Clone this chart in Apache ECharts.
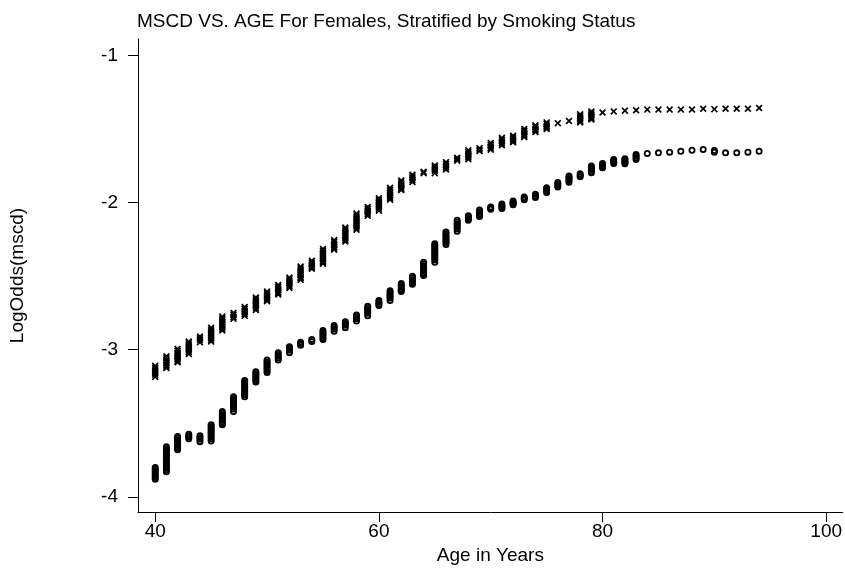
<!DOCTYPE html>
<html>
<head>
<meta charset="utf-8">
<script src="https://cdn.jsdelivr.net/npm/echarts@6/dist/echarts.min.js"></script>
<style>html,body{margin:0;padding:0;background:#fff}#c{width:845px;height:570px}</style>
</head>
<body>
<div id="c"></div>
<script>
const titleText = 'MSCD VS. AGE For Females, Stratified by Smoking Status';
const xName = 'Age in Years';
const yName = 'LogOdds(mscd)';
const xTicks = [40, 60, 80, 100];
const yTicks = [-4, -3, -2, -1];

const ages = [40,41,42,43,44,45,46,47,48,49,50,51,52,53,54,55,56,57,58,59,60,61,62,63,64,65,66,67,68,69,70,71,72,73,74,75,76,77,78,79,80,81,82,83,84,85,86,87,88,89,90,91,92,93,94];

// smokers (x markers): values observed at each age
const smokerVals = [
  [-3.11,-3.122,-3.134,-3.146,-3.158,-3.17,-3.185],
  [-3.045,-3.057,-3.069,-3.081,-3.093,-3.105,-3.115,-3.125],
  [-2.995,-3.007,-3.019,-3.031,-3.043,-3.055,-3.067,-3.076,-3.085],
  [-2.945,-2.957,-2.969,-2.981,-2.993,-3.005,-3.017,-3.03],
  [-2.91,-2.922,-2.934,-2.95],
  [-2.85,-2.862,-2.874,-2.886,-2.898,-2.91,-2.922,-2.934,-2.945],
  [-2.775,-2.787,-2.799,-2.811,-2.823,-2.835,-2.847,-2.859,-2.87],
  [-2.75,-2.763,-2.777,-2.79],
  [-2.71,-2.722,-2.734,-2.746,-2.758,-2.77],
  [-2.645,-2.657,-2.669,-2.681,-2.693,-2.705,-2.718,-2.73],
  [-2.605,-2.617,-2.629,-2.641,-2.653,-2.662,-2.67],
  [-2.56,-2.572,-2.584,-2.596,-2.608,-2.617,-2.625],
  [-2.51,-2.522,-2.534,-2.546,-2.558,-2.57,-2.58],
  [-2.435,-2.447,-2.459,-2.471,-2.483,-2.495,-2.507,-2.516,-2.525],
  [-2.395,-2.407,-2.419,-2.431,-2.441,-2.45],
  [-2.315,-2.327,-2.339,-2.351,-2.363,-2.375,-2.387,-2.399,-2.407,-2.415],
  [-2.255,-2.267,-2.279,-2.291,-2.303,-2.312,-2.32],
  [-2.17,-2.182,-2.194,-2.206,-2.218,-2.23,-2.242,-2.254,-2.265],
  [-2.075,-2.087,-2.099,-2.111,-2.123,-2.135,-2.147,-2.159,-2.171,-2.185],
  [-2.03,-2.042,-2.054,-2.066,-2.078,-2.09],
  [-1.97,-1.982,-1.994,-2.006,-2.018,-2.03,-2.042,-2.055],
  [-1.90,-1.912,-1.924,-1.936,-1.948,-1.96,-1.97,-1.98],
  [-1.85,-1.862,-1.874,-1.886,-1.898,-1.907,-1.915],
  [-1.81,-1.822,-1.834,-1.846,-1.86],
  [-1.79,-1.80],
  [-1.748,-1.76,-1.772,-1.784,-1.80],
  [-1.725,-1.737,-1.749,-1.761,-1.775],
  [-1.695,-1.705,-1.715],
  [-1.645,-1.657,-1.669,-1.681,-1.693,-1.705],
  [-1.63,-1.64,-1.65],
  [-1.595,-1.607,-1.619,-1.63,-1.64],
  [-1.56,-1.572,-1.584,-1.596,-1.61],
  [-1.545,-1.557,-1.569,-1.58,-1.59],
  [-1.50,-1.512,-1.524,-1.536,-1.546,-1.555],
  [-1.475,-1.487,-1.499,-1.51,-1.52],
  [-1.455,-1.467,-1.479,-1.49,-1.50],
  [-1.46],
  [-1.445],
  [-1.40,-1.412,-1.424,-1.436,-1.446,-1.455],
  [-1.38,-1.392,-1.404,-1.416,-1.426,-1.435],
  [-1.388],
  [-1.38],
  [-1.375],
  [-1.372],
  [-1.368],
  [-1.368],
  [-1.368],
  [-1.368],
  [-1.368],
  [-1.362],
  [-1.365],
  [-1.362],
  [-1.362],
  [-1.362],
  [-1.357]
];

// non-smokers (o markers): values observed at each age
const nonSmokerVals = [
  [-3.80,-3.812,-3.824,-3.836,-3.848,-3.86,-3.87,-3.88],
  [-3.66,-3.672,-3.684,-3.696,-3.708,-3.72,-3.732,-3.744,-3.756,-3.768,-3.78,-3.792,-3.804,-3.816,-3.83],
  [-3.59,-3.602,-3.614,-3.626,-3.638,-3.65,-3.662,-3.672,-3.68],
  [-3.575,-3.585,-3.595,-3.605],
  [-3.585,-3.597,-3.609,-3.625],
  [-3.51,-3.522,-3.534,-3.546,-3.558,-3.57,-3.582,-3.594,-3.606,-3.62],
  [-3.42,-3.432,-3.444,-3.456,-3.468,-3.48,-3.492,-3.502,-3.51],
  [-3.32,-3.332,-3.344,-3.356,-3.368,-3.38,-3.392,-3.404,-3.42],
  [-3.21,-3.222,-3.234,-3.246,-3.258,-3.27,-3.282,-3.294,-3.306,-3.32],
  [-3.15,-3.162,-3.174,-3.186,-3.198,-3.21,-3.22],
  [-3.07,-3.082,-3.094,-3.106,-3.118,-3.13,-3.142,-3.155],
  [-3.02,-3.032,-3.044,-3.056,-3.07],
  [-2.98,-2.992,-3.004,-3.02],
  [-2.95,-2.96,-2.97],
  [-2.93,-2.945],
  [-2.87,-2.882,-2.894,-2.906,-2.918,-2.93],
  [-2.835,-2.847,-2.859,-2.875],
  [-2.81,-2.822,-2.834,-2.85],
  [-2.765,-2.777,-2.789,-2.805],
  [-2.705,-2.717,-2.729,-2.741,-2.753,-2.77],
  [-2.665,-2.677,-2.689,-2.70],
  [-2.60,-2.612,-2.624,-2.636,-2.648,-2.665],
  [-2.55,-2.562,-2.574,-2.586,-2.596,-2.605],
  [-2.50,-2.512,-2.524,-2.536,-2.546,-2.555],
  [-2.405,-2.417,-2.429,-2.441,-2.453,-2.465,-2.477,-2.487,-2.495],
  [-2.28,-2.292,-2.304,-2.316,-2.328,-2.34,-2.352,-2.364,-2.376,-2.388,-2.405],
  [-2.20,-2.212,-2.224,-2.236,-2.248,-2.26,-2.272,-2.285],
  [-2.12,-2.132,-2.144,-2.156,-2.168,-2.18,-2.195],
  [-2.09,-2.10,-2.11,-2.12],
  [-2.05,-2.062,-2.074,-2.086,-2.095],
  [-2.03,-2.038,-2.045],
  [-2.01,-2.02,-2.03,-2.04],
  [-1.99,-2.00,-2.007,-2.014],
  [-1.962,-1.971,-1.98],
  [-1.944,-1.955,-1.966],
  [-1.90,-1.91,-1.92,-1.932],
  [-1.863,-1.873,-1.884,-1.894],
  [-1.82,-1.83,-1.84,-1.85,-1.861],
  [-1.804,-1.814,-1.824],
  [-1.752,-1.763,-1.774,-1.786,-1.797],
  [-1.734,-1.744,-1.754,-1.763],
  [-1.707,-1.716,-1.725,-1.734],
  [-1.702,-1.711,-1.72,-1.728,-1.736],
  [-1.673,-1.684,-1.695,-1.707],
  [-1.666],
  [-1.662],
  [-1.657],
  [-1.651],
  [-1.644],
  [-1.639],
  [-1.646,-1.657],
  [-1.662],
  [-1.662],
  [-1.657],
  [-1.651]
];

function toPoints(vals) {
  const pts = [];
  ages.forEach((a, i) => vals[i].forEach(v => pts.push([a, v])));
  return pts;
}

const font = 'Liberation Sans, Arial, Helvetica, sans-serif';
const xMark = 'path://M0,1.7L1.7,0L5,3.3L8.3,0L10,1.7L6.7,5L10,8.3L8.3,10L5,6.7L1.7,10L0,8.3L3.3,5Z';

const chart = echarts.init(document.getElementById('c'), null, {renderer: 'canvas'});
chart.setOption({
  animation: false,
  backgroundColor: '#fff',
  title: {
    text: titleText, left: 137, top: 12, padding: 0,
    textStyle: {fontFamily: font, fontSize: 19, fontWeight: 'normal', color: '#000'}
  },
  grid: {left: 136, top: 39, width: 709, height: 475.7},
  xAxis: {
    type: 'value', min: 38.46, max: 101.48,
    name: xName, nameLocation: 'middle', nameGap: 27,
    nameTextStyle: {fontFamily: font, fontSize: 19, color: '#000'},
    axisLine: {show: true, onZero: false, lineStyle: {color: '#000', width: 1}},
    axisTick: {show: true, length: 10, customValues: xTicks, lineStyle: {color: '#000', width: 1}},
    axisLabel: {customValues: xTicks, margin: 10, fontFamily: font, fontSize: 19, color: '#000'},
    splitLine: {show: false}
  },
  yAxis: {
    type: 'value', min: -4.104, max: -0.888,
    name: yName, nameLocation: 'middle', nameGap: 111, nameRotate: 90,
    nameTextStyle: {fontFamily: font, fontSize: 19, color: '#000'},
    axisLine: {show: true, onZero: false, lineStyle: {color: '#000', width: 1}},
    axisTick: {show: true, length: 10, customValues: yTicks, lineStyle: {color: '#000', width: 1}},
    axisLabel: {customValues: yTicks, margin: 20, fontFamily: font, fontSize: 19, color: '#000'},
    splitLine: {show: false}
  },
  series: [
    {
      name: 'Smokers', type: 'scatter', data: toPoints(smokerVals),
      symbol: xMark, symbolSize: 7,
      itemStyle: {color: '#000', opacity: 1}
    },
    {
      name: 'Non-smokers', type: 'scatter', data: toPoints(nonSmokerVals),
      symbol: 'circle', symbolSize: 5.2,
      itemStyle: {color: 'rgba(0,0,0,0)', borderColor: '#000', borderWidth: 1.8, opacity: 1}
    }
  ]
});
</script>
</body>
</html>
